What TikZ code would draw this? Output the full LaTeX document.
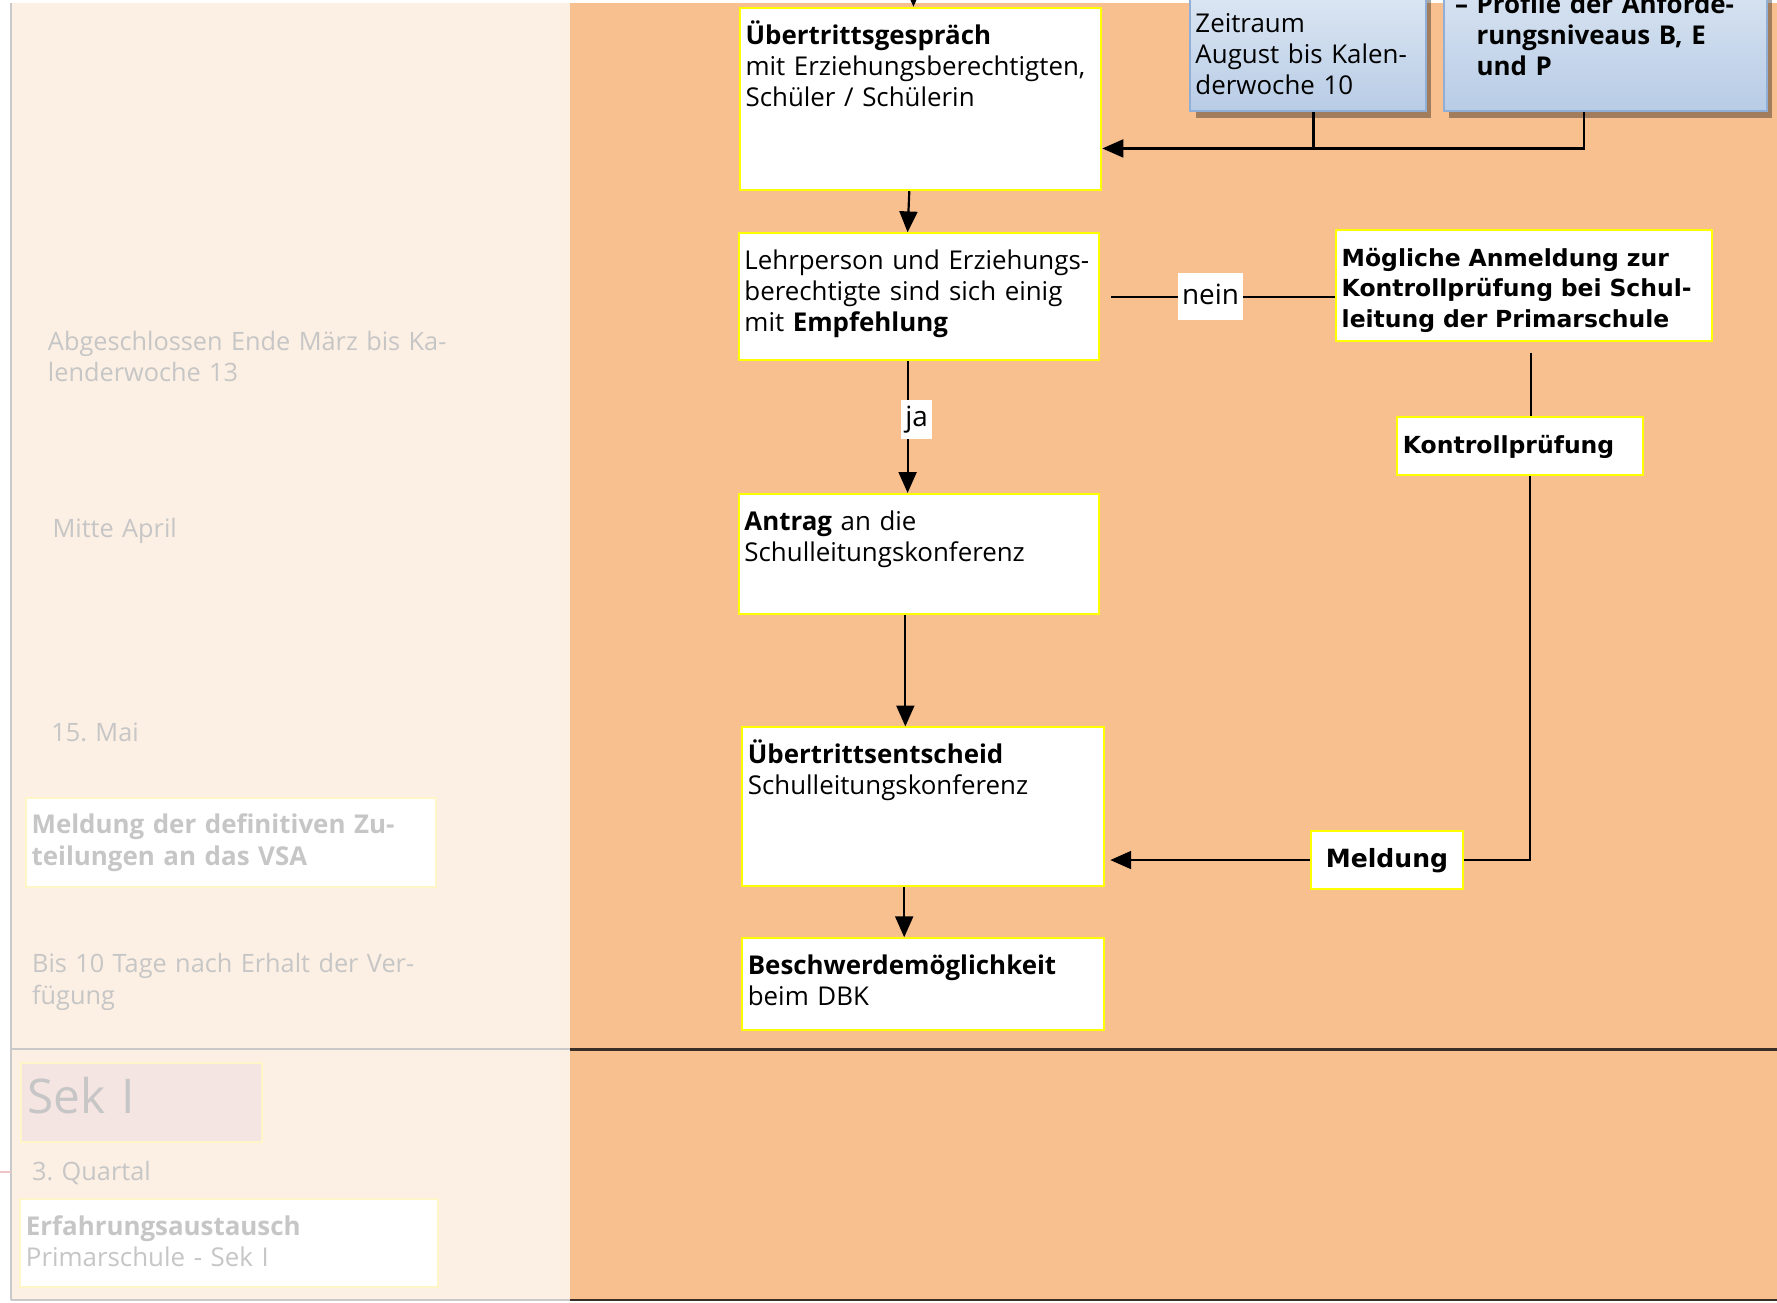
\documentclass[tikz,border=0pt]{standalone}
\usepackage{fontspec}
\setmainfont{Open Sans}
\newfontfamily\badgefont{DejaVu Sans}
\frenchspacing
\usetikzlibrary{arrows.meta,shadows}
\definecolor{paper}{HTML}{FCEFE3}
\definecolor{peach}{HTML}{F8C08F}
\definecolor{ghost}{HTML}{C6C6C6}
\definecolor{rule}{HTML}{C9C9C9}
\definecolor{darkrule}{HTML}{3A2E26}
\definecolor{pinktick}{HTML}{F0C4C4}
\definecolor{boxline}{HTML}{FFFF00}
\definecolor{paleline}{HTML}{FFF6C8}
\definecolor{sekfill}{HTML}{F4E4E2}
\definecolor{bluetop}{HTML}{DDE7F3}
\definecolor{bluebot}{HTML}{B8CCE6}
\definecolor{blueline}{HTML}{90AED6}
\tikzset{
  % white boxes of the procedure, text hangs from the top edge
  stage/.style={draw=boxline, fill=white, line width=1pt, anchor=north west,
    align=left, inner sep=0.1cm, text height=0.54cm,
    font=\fontsize{13}{15.6}\selectfont},
  badge/.style={stage, font=\badgefont\bfseries\fontsize{11.8}{15.3}\selectfont},
  memo/.style={draw=blueline, line width=1pt, top color=bluetop, bottom color=bluebot,
    drop shadow={shadow xshift=0.1cm, shadow yshift=-0.12cm, fill=black, opacity=0.35},
    anchor=north west, align=left, inner sep=0.1cm,
    font=\fontsize{13}{15.6}\selectfont},
  faded/.style={anchor=base west, inner sep=0pt, text width=9cm, align=left,
    text=ghost, font=\fontsize{12.7}{15.9}\selectfont},
  fadedbox/.style={stage, draw=paleline, text=ghost},
  answer/.style={fill=white, inner xsep=2pt, inner ysep=2.5pt, text height=11pt,
    text depth=3.5pt, font=\fontsize{14}{16}\selectfont},
  wire/.style={line width=1.1pt, black},
  flow/.style={wire, -{Triangle[length=10.5pt,width=9pt]}}
}

\begin{document}
\begin{tikzpicture}[x=0.02cm, y=-0.02cm]

\useasboundingbox (0,0) rectangle (1568,1149);
\clip (0,0) rectangle (1568,1149);

% Panels (drawn first)
\fill[paper] (10,3) rectangle (503,1147);
\fill[peach] (503,3) rectangle (1568,1147);
\draw[rule, line width=1pt] (10,3) -- (10,1147);
\draw[rule, line width=1pt] (10,926) -- (503,926);
\draw[rule, line width=1pt] (10,1147) -- (503,1147);
\draw[darkrule, line width=1.2pt] (503,926) -- (1568,926);
\draw[darkrule, line width=1.4pt] (503,1147) -- (1568,1147);
\draw[pinktick, line width=0.8pt] (0,1034) -- (10,1034);

% Dates column (faded)
\node[faded] (kw13) at (42,309) {Abgeschlossen Ende März bis Ka-\\lenderwoche 13};
\node[faded] (april) at (46,474) {Mitte April};
\node[faded] (mai) at (45,654) {15. Mai};
\node[fadedbox, text width=7.04cm, text depth=0.84cm] (vsa) at (22,703)
  {\textbf{Meldung der definitiven Zu-}\\\textbf{teilungen an das VSA}};
\node[faded] (frist) at (28,858) {Bis 10 Tage nach Erhalt der Ver-\\fügung};
\node[fadedbox, fill=sekfill, text width=4.04cm, text height=0.8cm, text depth=0.4cm,
  font=\fontsize{24}{28}\selectfont] (sek) at (18,937) {Sek I};
\node[faded] (quartal) at (28,1042) {3. Quartal};
\node[fadedbox, text width=7.18cm, text depth=0.82cm] (austausch) at (17,1057)
  {\textbf{Erfahrungsaustausch}\\Primarschule - Sek I};

% Blue notes at the top
\node[memo, text width=3.96cm, text height=0.66cm, text depth=1.28cm] (zeit) at (1049,-10)
  {Zeitraum\\August bis Kalen-\\derwoche 10};
\node[memo, inner xsep=0.2cm, text width=5.3cm, text height=0.72cm, text depth=1.62cm,
  font=\bfseries\fontsize{13}{15.6}\selectfont] (profil) at (1273,-30)
  {\makebox[0.38cm][l]{–}\parbox[t]{4.9cm}{\raggedright Profile der Anforde-\\rungsniveaus B, E\\und P}};

% Procedure
\node[stage, text width=6.18cm, text depth=2.48cm] (gespr) at (652,6)
  {\textbf{Übertrittsgespräch}\\mit Erziehungsberechtigten,\\Schüler / Schülerin};
\node[stage, text width=6.16cm, text depth=1.50cm] (einig) at (651,205)
  {Lehrperson und Erziehungs-\\berechtigte sind sich einig\\mit \textbf{Empfehlung}};
\node[stage, text width=6.16cm, text depth=1.38cm] (antrag) at (651,435)
  {\textbf{Antrag} an die\\Schulleitungskonferenz};
\node[stage, text width=6.18cm, text depth=2.06cm] (entscheid) at (654,641)
  {\textbf{Übertrittsentscheid}\\Schulleitungskonferenz};
\node[stage, text width=6.18cm, text depth=0.88cm] (beschwerde) at (654,827)
  {\textbf{Beschwerdemöglichkeit}\\beim DBK};

% Side track
\node[badge, text width=6.44cm, text depth=1.22cm] (anmeldung) at (1178,202)
  {Mögliche Anmeldung zur\\Kontrollprüfung bei Schul-\\leitung der Primarschule};
\node[badge, text width=4.14cm, text depth=0.28cm] (kontroll) at (1232,367) {Kontrollprüfung};
\node[badge, align=center, text width=2.48cm, text depth=0.28cm, text height=0.56cm,
  font=\badgefont\bfseries\fontsize{12.6}{15}\selectfont] (meldung) at (1156,732) {Meldung};

% Connectors
\coordinate (feed) at (806,-20);
\coordinate (merge) at (1159,131);
\draw[flow] (feed) -- (feed |- gespr.north);
\draw[flow] ([xshift=-0.2cm]gespr.south) -- ([xshift=-0.2cm]einig.north);
\draw[flow] ([xshift=-0.2cm]einig.south) --
  node[answer, pos=0.44, xshift=0.16cm] (ja) {ja} ([xshift=-0.2cm]antrag.north);
\draw[wire, shorten <=0.2cm] (einig.east) --
  node[answer, pos=0.47, inner ysep=4.5pt] (nein) {nein} (einig.east -| anmeldung.west);
\draw[flow] ([xshift=-0.24cm]antrag.south) -- ([xshift=-0.24cm]antrag.south |- entscheid.north);
\draw[flow] ([xshift=-0.33cm]entscheid.south) -- ([xshift=-0.33cm]beschwerde.north);
\draw[wire] (zeit.south -| merge) -- (merge);
\draw[flow] ([xshift=-0.38cm]profil.south) |- (gespr.east |- merge);
\draw[wire, shorten <=0.2cm] ([xshift=0.12cm]anmeldung.south) --
  ([xshift=0.12cm]anmeldung.south |- kontroll.north);
\draw[wire] ([xshift=0.17cm]kontroll.south) |- (meldung.east);
\draw[flow, shorten >=0.1cm] (meldung.west) -- (meldung.west -| entscheid.east);

\end{tikzpicture}
\end{document}
